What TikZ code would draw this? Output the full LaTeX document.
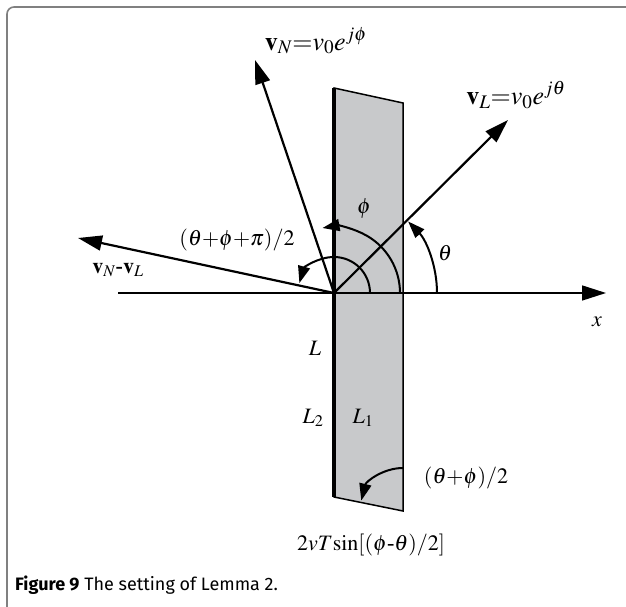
\documentclass[tikz,border=0pt]{standalone}
\usepackage{mathptmx}
\usepackage[no-math]{fontspec}
\setmainfont{Liberation Serif}
\newfontfamily\capfont{Fira Sans}
\usetikzlibrary{arrows.meta}
\tikzset{
  lbl/.style={inner sep=0pt, font=\fontsize{22}{26}\selectfont},
  vlbl/.style={inner sep=0pt, font=\fontsize{26}{30}\selectfont},
  bigarrow/.style={line width=2.2pt, -{Triangle[length=24pt,width=15pt]}},
  arcarrow/.style={line width=2pt, -{Triangle[length=17pt,width=12pt]}},
  thinline/.style={line width=1.5pt},
  frameline/.style={line width=1.6pt, draw=black!50},
}
\begin{document}
\begin{tikzpicture}[x=1pt,y=1pt]
\useasboundingbox (0,0) rectangle (626,607);
% frame
\draw[frameline, rounded corners=7pt] (626,600) -- (7,600) -- (7,0);
% coordinates
\coordinate (O) at (334,314);
\coordinate (xs) at (118,314);
\coordinate (xe) at (606,314);
\coordinate (vN) at (255,547);
\coordinate (vL) at (508,487);
\coordinate (vD) at (78,369);
\coordinate (p1) at (334,519);
\coordinate (p2) at (403,504);
\coordinate (p3) at (403,96);
\coordinate (p4) at (334,110);
% gray strip
\draw[thinline, fill={rgb,255:red,200;green,201;blue,203}] (p1) -- (p2) -- (p3) -- (p4) -- cycle;
\draw[line width=4.5pt] (p1) -- (p4);
% axis
\draw[thinline, -{Triangle[length=24pt,width=15pt]}] (xs) -- (xe);
% vectors
\draw[bigarrow] (O) -- (vN);
\draw[bigarrow] (O) -- (vL);
\draw[bigarrow] (O) -- (vD);
% angle arcs
\draw[arcarrow] ([xshift=103pt]O) arc[start angle=0, end angle=44, radius=103pt];
\draw[arcarrow] ([xshift=66pt]O) arc[start angle=0, end angle=100, radius=66pt];
\draw[arcarrow] ([xshift=36pt]O) arc[start angle=0, end angle=164, radius=36pt];
\draw[arcarrow] ([yshift=43pt]p3) arc[start angle=90, end angle=166, radius=43pt];
% labels
\node[vlbl] (lvN) at (316,566) {$\mathbf{v}_N{=}v_0e^{j\phi}$};
\node[vlbl] (lvL) at (516,512) {$\mathbf{v}_L{=}v_0e^{j\theta}$};
\node[lbl] (lvD) at (118,337) {$\mathbf{v}_N$\textbf{-}$\mathbf{v}_L$};
\node[lbl] (lsum) at (237,367) {$(\theta{+}\phi{+}\pi)/2$};
\node[lbl] (lphi) at (364,398) {$\phi$};
\node[lbl] (lth) at (445,354) {$\theta$};
\node[lbl] (lx) at (597,285) {$x$};
\node[lbl] (lL) at (315,259) {$L$};
\node[lbl] (lL2) at (313,189) {$L_2$};
\node[lbl] (lL1) at (363,189) {$L_1$};
\node[lbl] (lhalf) at (466,129) {$(\theta{+}\phi)/2$};
\node[lbl] (lw) at (371,62) {$2vT\mathrm{sin}[(\phi$-$\theta)/2]$};
\node[anchor=west, inner sep=0pt, font=\capfont\fontsize{18}{21}\selectfont] (cap) at (15,22) {\textbf{Figure 9} The setting of Lemma 2.};
\end{tikzpicture}
\end{document}
